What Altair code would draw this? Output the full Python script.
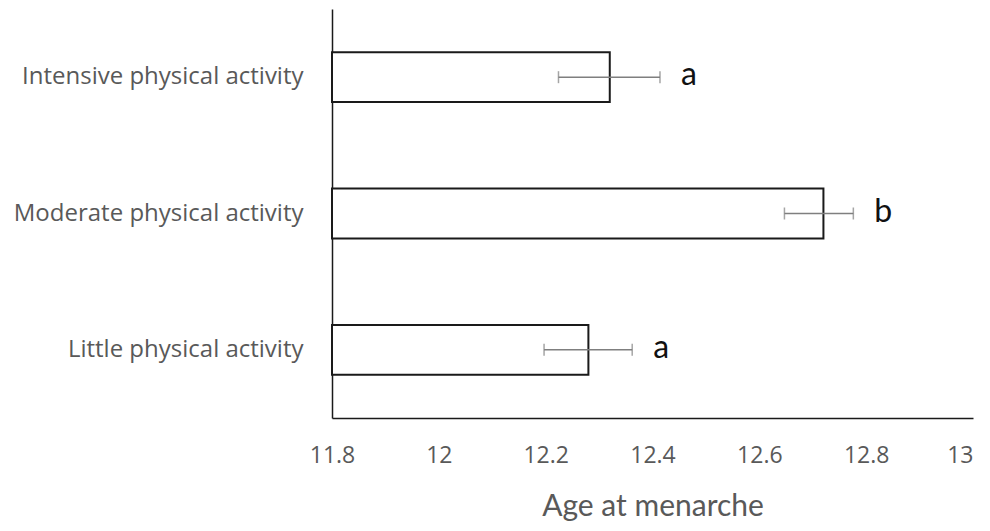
import altair as alt
import pandas as pd

categories = ["Intensive physical activity", "Moderate physical activity", "Little physical activity"]
means = [12.32, 12.72, 12.28]
err_low = [12.224, 12.647, 12.197]
err_high = [12.414, 12.776, 12.362]
letters = ["a", "b", "a"]
x_ticks = [11.8, 12, 12.2, 12.4, 12.6, 12.8, 13]
x_start = 11.8

df = pd.DataFrame({
    "cat": categories,
    "mean": means,
    "lo": err_low,
    "hi": err_high,
    "letter": letters,
})

FONT = "Open Sans"
GRAY = "#595959"

xscale = alt.Scale(domain=[11.8, 13], nice=False, zero=False)
yscale = alt.Scale(domain=categories, paddingInner=0.634, paddingOuter=0.317)

base = alt.Chart(df)

bars = base.mark_bar(fill="white", stroke="#1a1a1a", strokeWidth=2).encode(
    x=alt.X("mean:Q", scale=xscale,
            axis=alt.Axis(values=x_ticks, format="~g", title="Age at menarche",
                          ticks=False, grid=False, domainColor="#1a1a1a", domainWidth=1.5,
                          labelFont=FONT, labelFontSize=23, labelColor=GRAY, labelPadding=26,
                          labelFlush=False,
                          labelAlign=alt.ExprRef("datum.value >= 13 ? 'right' : 'center'"),
                          titleFont="Lato", titleFontSize=30, titleColor=GRAY,
                          titleFontWeight="normal", titlePadding=24)),
    x2=alt.datum(x_start),
    y=alt.Y("cat:N", scale=yscale, sort=categories,
            axis=alt.Axis(title=None, ticks=False, grid=False, domainColor="#1a1a1a",
                          domainWidth=1.5, labelFont=FONT, labelFontSize=24,
                          labelColor=GRAY, labelPadding=29, labelLimit=400)),
)

rules = base.mark_rule(color="#7f7f7f", strokeWidth=1.5).encode(
    x=alt.X("lo:Q", scale=xscale),
    x2="hi:Q",
    y=alt.Y("cat:N", scale=yscale, sort=categories),
)

caps_lo = base.mark_tick(color="#7f7f7f", thickness=1.5, size=12, orient="vertical").encode(
    x=alt.X("lo:Q", scale=xscale),
    y=alt.Y("cat:N", scale=yscale, sort=categories),
)
caps_hi = base.mark_tick(color="#7f7f7f", thickness=1.5, size=12, orient="vertical").encode(
    x=alt.X("hi:Q", scale=xscale),
    y=alt.Y("cat:N", scale=yscale, sort=categories),
)

text = base.mark_text(align="left", baseline="middle", dx=21, dy=-2, font="Lato",
                      fontSize=32, color="#111111").encode(
    x=alt.X("hi:Q", scale=xscale),
    y=alt.Y("cat:N", scale=yscale, sort=categories),
    text="letter:N",
)

chart = alt.layer(bars, rules, caps_lo, caps_hi, text).properties(
    width=641, height=409,
    autosize=alt.AutoSizeParams(type="none"),
    padding={"left": 324, "top": 1, "right": 9, "bottom": 105},
    background="white",
).configure_view(stroke=None)

chart.save("out.html", embed_options={"renderer": "svg", "actions": False})
